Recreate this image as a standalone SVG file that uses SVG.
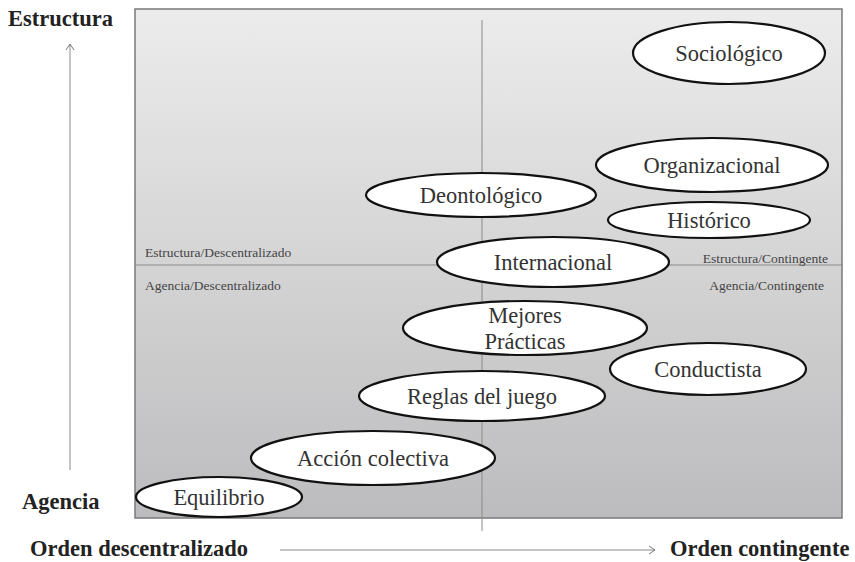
<svg xmlns="http://www.w3.org/2000/svg" width="855" height="562" viewBox="0 0 855 562">
<defs>
<linearGradient id="bg" x1="0" y1="0" x2="0" y2="1">
<stop offset="0" stop-color="#ececec"/>
<stop offset="1" stop-color="#bcbcbe"/>
</linearGradient>
<marker id="ah" markerWidth="10" markerHeight="10" refX="8" refY="5" orient="auto" markerUnits="userSpaceOnUse">
<path d="M2,1 L8,5 L2,9" fill="none" stroke="#777" stroke-width="1"/>
</marker>
</defs>
<style>
.oval{fill:#fff;stroke:#111;stroke-width:2.2}
.ovaltxt{font-family:'Liberation Serif',serif;font-size:22.5px;fill:#333;text-anchor:middle}
.qtxt{font-family:'Liberation Serif',serif;font-size:13.5px;fill:#444}
.axtxt{font-family:'Liberation Serif',serif;font-size:22.5px;font-weight:bold;fill:#222}
.guide{stroke:#8a8a8a;stroke-width:1;fill:none}
</style>
<g id="panel">
<rect x="135" y="9" width="707" height="509" fill="url(#bg)" stroke="#7a7a7a" stroke-width="1.5"/>
</g>
<g id="connectors">
<line class="guide" x1="482" y1="20" x2="482" y2="531"/>
<line class="guide" x1="135" y1="265" x2="842" y2="265"/>
<line class="guide" x1="70" y1="470" x2="70" y2="44" marker-end="url(#ah)"/>
<line class="guide" x1="280" y1="550" x2="655" y2="550" marker-end="url(#ah)"/>
</g>
<g id="quadrant-labels">
<text class="qtxt" x="145" y="257">Estructura/Descentralizado</text>
<text class="qtxt" x="145" y="290">Agencia/Descentralizado</text>
<text class="qtxt" x="828" y="263" text-anchor="end">Estructura/Contingente</text>
<text class="qtxt" x="824" y="290" text-anchor="end">Agencia/Contingente</text>
</g>
<g id="axis-labels">
<text class="axtxt" x="8" y="26">Estructura</text>
<text class="axtxt" x="22" y="509">Agencia</text>
<text class="axtxt" x="30" y="556">Orden descentralizado</text>
<text class="axtxt" x="670" y="556">Orden contingente</text>
</g>
<g id="sociologico"><ellipse class="oval" cx="729" cy="53" rx="96" ry="31"/><text class="ovaltxt" x="729" y="61">Sociológico</text></g>
<g id="organizacional"><ellipse class="oval" cx="712" cy="165" rx="116" ry="27"/><text class="ovaltxt" x="712" y="173">Organizacional</text></g>
<g id="deontologico"><ellipse class="oval" cx="481" cy="195" rx="115" ry="22"/><text class="ovaltxt" x="481" y="203">Deontológico</text></g>
<g id="historico"><ellipse class="oval" cx="709" cy="220" rx="101" ry="18"/><text class="ovaltxt" x="709" y="228">Histórico</text></g>
<g id="internacional"><ellipse class="oval" cx="553" cy="262" rx="116" ry="25"/><text class="ovaltxt" x="553" y="270">Internacional</text></g>
<g id="mejores"><ellipse class="oval" cx="525" cy="328" rx="122" ry="27"/><text class="ovaltxt" x="525" y="323">Mejores</text><text class="ovaltxt" x="525" y="349">Prácticas</text></g>
<g id="conductista"><ellipse class="oval" cx="708" cy="369" rx="98" ry="26"/><text class="ovaltxt" x="708" y="377">Conductista</text></g>
<g id="reglas"><ellipse class="oval" cx="482" cy="396" rx="123" ry="25"/><text class="ovaltxt" x="482" y="404">Reglas del juego</text></g>
<g id="accion"><ellipse class="oval" cx="373" cy="458" rx="122" ry="27"/><text class="ovaltxt" x="373" y="466">Acción colectiva</text></g>
<g id="equilibrio"><ellipse class="oval" cx="219" cy="497" rx="83" ry="20"/><text class="ovaltxt" x="219" y="505">Equilibrio</text></g>
</svg>
